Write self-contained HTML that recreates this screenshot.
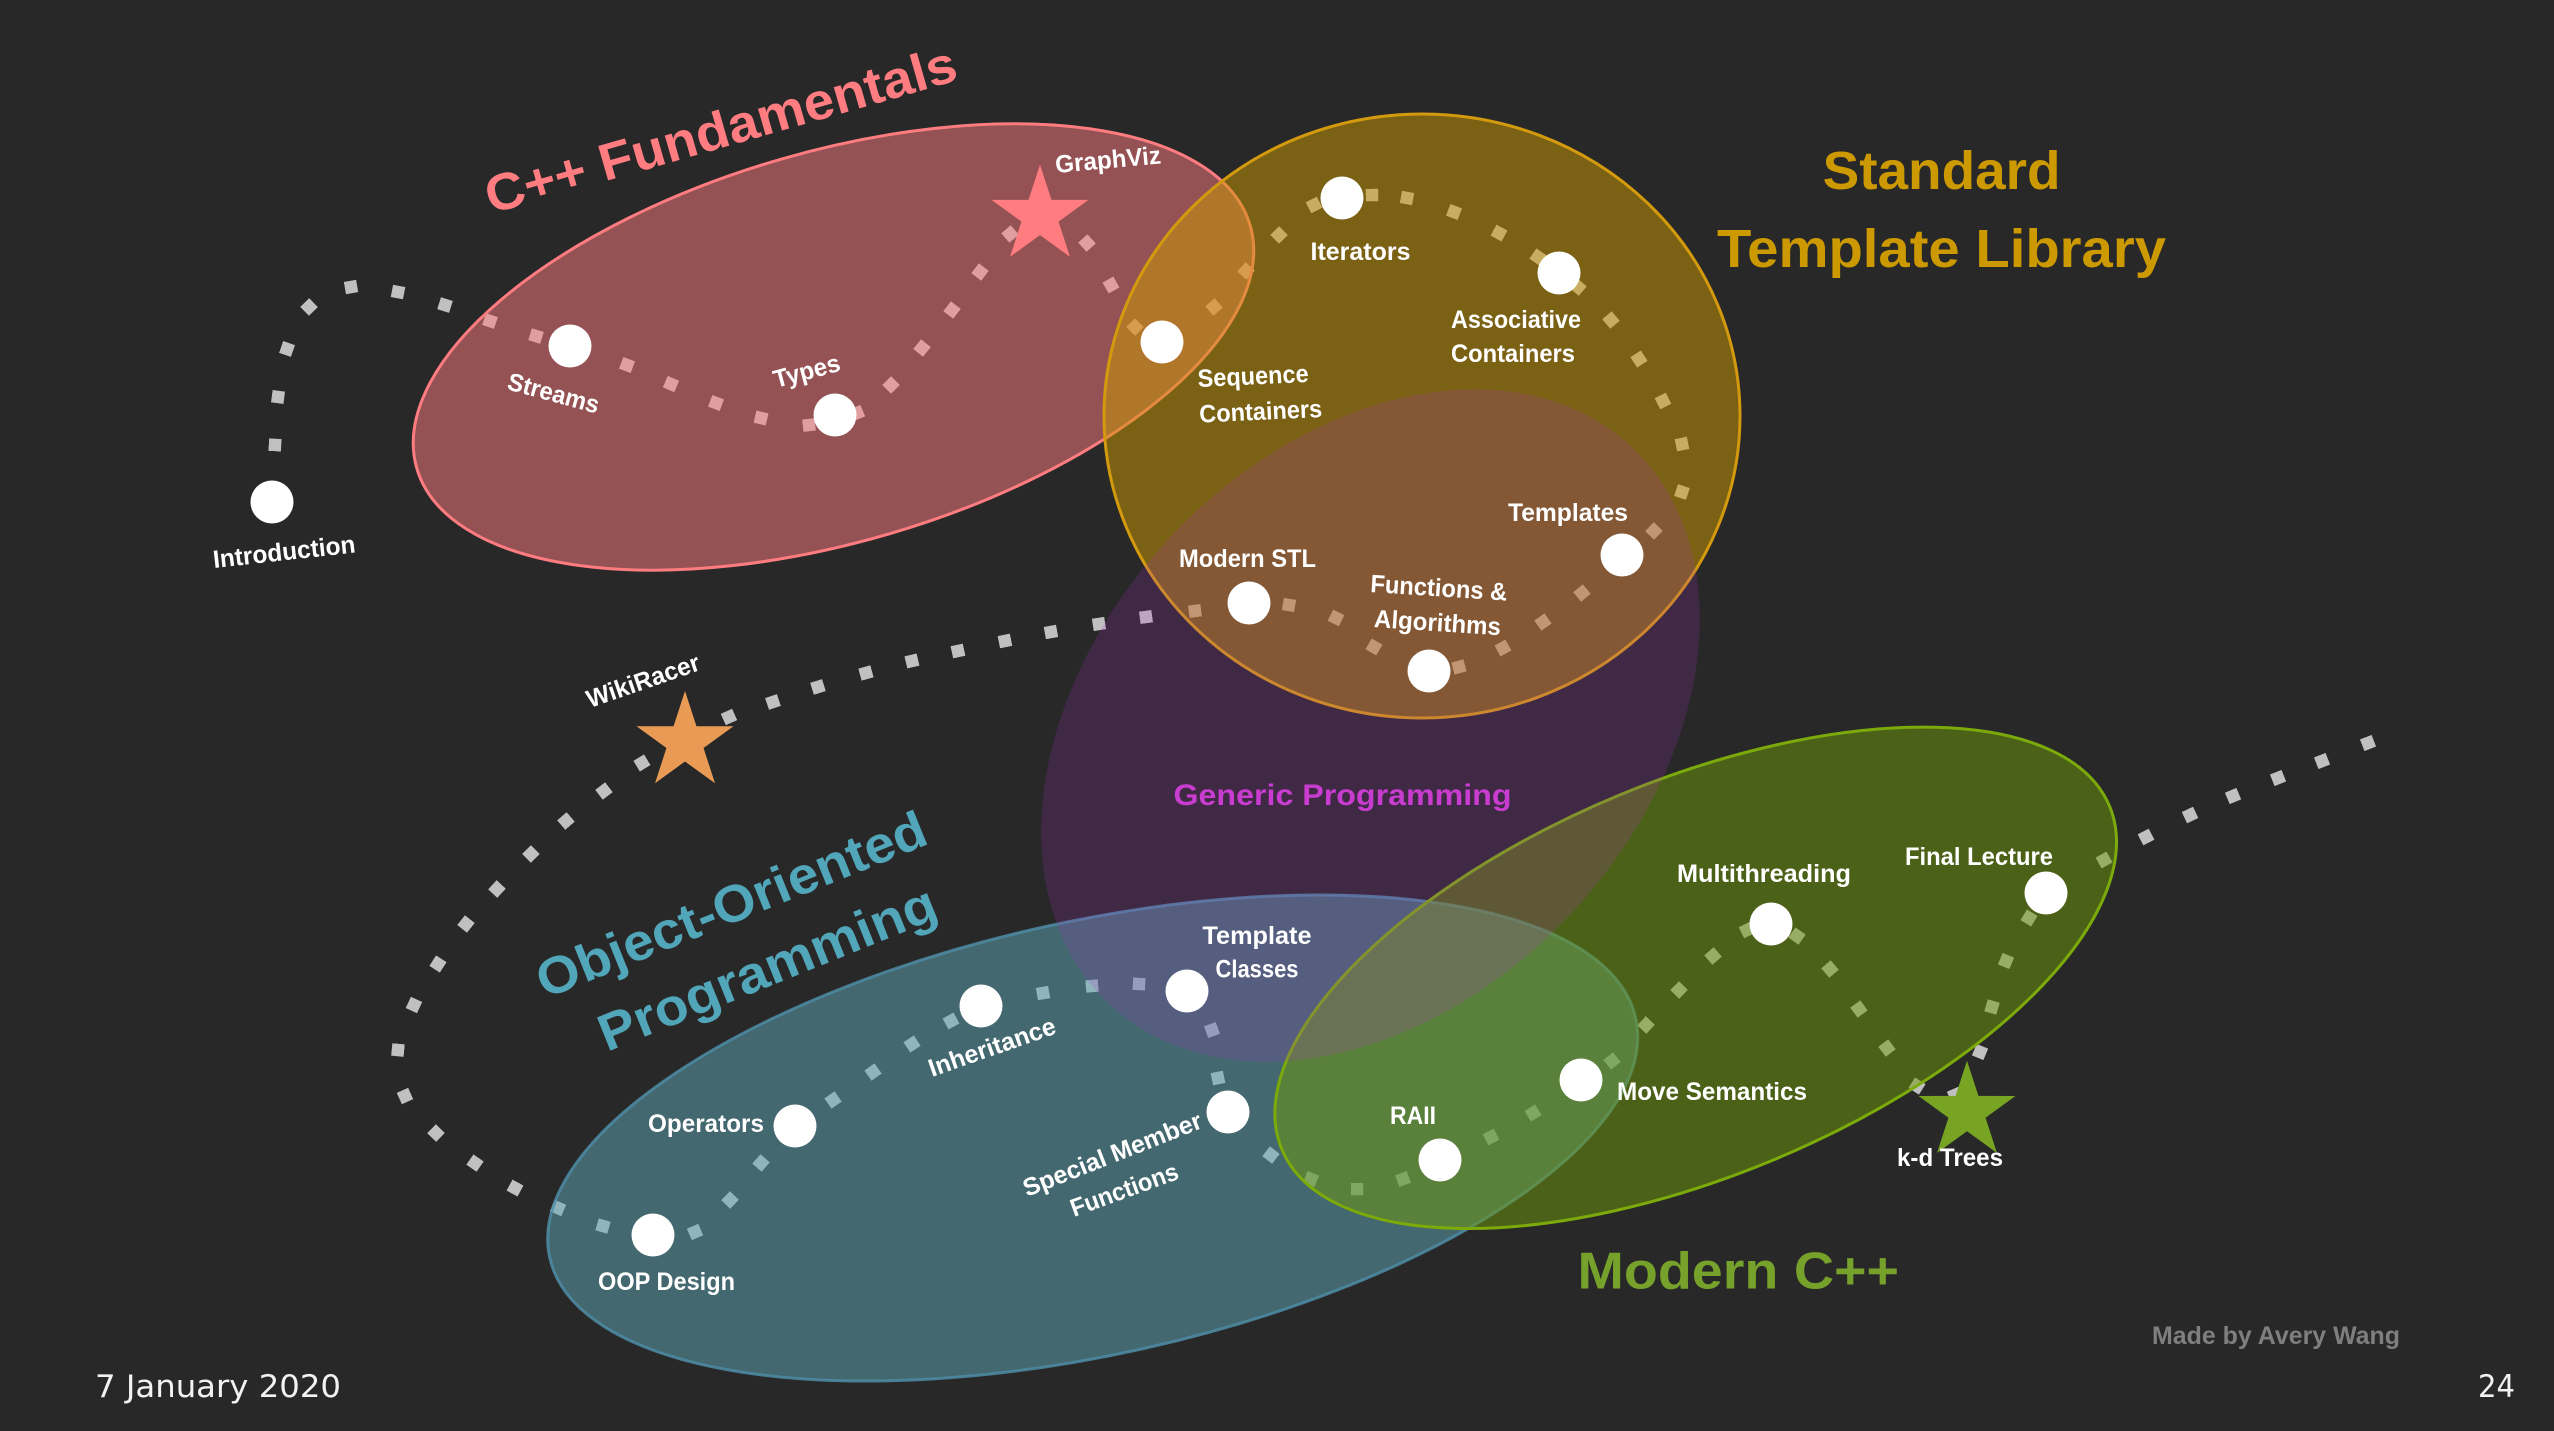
<!DOCTYPE html>
<html>
<head>
<meta charset="utf-8">
<style>
  html,body{margin:0;padding:0;background:#282828;}
  svg{display:block;}
  .lbl{font-family:"Liberation Sans",Arial,sans-serif;font-weight:bold;font-size:25px;fill:#FFFFFF;}
  .ttl{font-family:"Liberation Sans",Arial,sans-serif;font-weight:bold;}
</style>
</head>
<body>
<svg width="2554" height="1431" viewBox="0 0 2554 1431" xmlns="http://www.w3.org/2000/svg">
  <rect x="0" y="0" width="2554" height="1431" fill="#282828"/>
  <defs>
    <marker id="dot" markerUnits="userSpaceOnUse" markerWidth="14" markerHeight="14" refX="6.25" refY="6.25" orient="auto">
      <rect x="0" y="0" width="12.5" height="12.5" fill="#C0C0C0"/>
    </marker>
  </defs>

  <!-- dotted journey path -->
  <polyline fill="none" stroke="none" marker-start="url(#dot)" marker-mid="url(#dot)" marker-end="url(#dot)"
    points="272,502 275,445 278,397 287,349 309,307 351,287 398,292 445,305 490,321 536,336 570,346 627,365 671,384 716,403 761,418 809,425 835,415 857,413 891,385 922,348 952,310 980,272 1010,234 1046,214 1087,243 1111,285 1135,327 1162,342 1214,307 1246,271 1279,235 1314,205 1342,198 1372,195 1407,198 1454,212 1499,233 1538,257 1559,273 1578,287 1611,320 1639,359 1663,401 1682,444 1682,492 1654,531 1622,555 1582,593 1543,622 1503,648 1459,667 1429,671 1374,647 1336,618 1289,605 1249,603 1195,611 1146,617 1099,624 1051,632 1005,641 958,651 912,661 866,673 818,687 773,702 729,717 685,742 642,763 604,791 566,821 531,854 497,889 466,924 438,964 414,1005 398,1050 405,1096 436,1133 475,1163 515,1188 558,1208 603,1226 653,1235 695,1232 730,1200 761,1163 795,1126 833,1100 873,1072 912,1044 951,1021 981,1006 1043,993 1092,986 1139,984 1187,991 1212,1030 1218,1078 1228,1112 1271,1155 1311,1179 1357,1189 1403,1179 1440,1160 1491,1137 1533,1113 1581,1080 1612,1061 1646,1025 1679,990 1713,956 1747,930 1771,924 1797,936 1830,969 1859,1009 1887,1048 1917,1086 1955,1095 1980,1052 1992,1007 2006,961 2029,918 2046,893 2104,860 2146,837 2190,815 2233,796 2278,778 2322,761 2368,743"/>

  <!-- region ellipses -->
  <ellipse cx="833.5" cy="347" rx="434" ry="195" transform="rotate(-16.25 833.5 347)" fill="#FF7C80" fill-opacity="0.5" stroke="#FF7C80" stroke-width="3"/>
  <ellipse cx="1422" cy="416" rx="318" ry="302" fill="#CC9900" fill-opacity="0.5" stroke="#D49A0E" stroke-width="3"/>
  <ellipse cx="1092.7" cy="1138" rx="556" ry="216.6" transform="rotate(-12.42 1092.7 1138)" fill="#5EA8B6" fill-opacity="0.5" stroke="#4E8CA6" stroke-opacity="0.85" stroke-width="3"/>
  <ellipse cx="1695.7" cy="977.8" rx="448" ry="198" transform="rotate(-22.5 1695.7 977.8)" fill="#709A08" fill-opacity="0.5" stroke="#7BAA0A" stroke-width="3"/>
  <ellipse cx="1370.5" cy="725.5" rx="382" ry="275" transform="rotate(-46.9 1370.5 725.5)" fill="#B333C9" fill-opacity="0.18"/>

  <!-- nodes -->
  <g fill="#FFFFFF">
    <circle cx="272" cy="502" r="21.5"/>
    <circle cx="570" cy="346" r="21.5"/>
    <circle cx="835" cy="415" r="21.5"/>
    <circle cx="1162" cy="342" r="21.5"/>
    <circle cx="1342" cy="198" r="21.5"/>
    <circle cx="1559" cy="273" r="21.5"/>
    <circle cx="1622" cy="555" r="21.5"/>
    <circle cx="1429" cy="671" r="21.5"/>
    <circle cx="1249" cy="603" r="21.5"/>
    <circle cx="653" cy="1235" r="21.5"/>
    <circle cx="795" cy="1126" r="21.5"/>
    <circle cx="981" cy="1006" r="21.5"/>
    <circle cx="1187" cy="991" r="21.5"/>
    <circle cx="1228" cy="1112" r="21.5"/>
    <circle cx="1440" cy="1160" r="21.5"/>
    <circle cx="1581" cy="1080" r="21.5"/>
    <circle cx="1771" cy="924" r="21.5"/>
    <circle cx="2046" cy="893" r="21.5"/>
  </g>

  <!-- stars -->
  <polygon transform="translate(1040 215.6)" fill="#FF7C80" points="0,-51 11.46,-15.78 48.5,-15.76 18.55,6.03 29.98,41.26 0,19.5 -29.98,41.26 -18.55,6.03 -48.5,-15.76 -11.46,-15.78"/>
  <polygon transform="translate(685 742)" fill="#E99B55" points="0,-51 11.46,-15.78 48.5,-15.76 18.55,6.03 29.98,41.26 0,19.5 -29.98,41.26 -18.55,6.03 -48.5,-15.76 -11.46,-15.78"/>
  <polygon transform="translate(1967 1111.7)" fill="#77A422" points="0,-51 11.46,-15.78 48.5,-15.76 18.55,6.03 29.98,41.26 0,19.5 -29.98,41.26 -18.55,6.03 -48.5,-15.76 -11.46,-15.78"/>

  <!-- node labels -->
  <text class="lbl" transform="translate(214 568) rotate(-6.3)" textLength="143" lengthAdjust="spacingAndGlyphs">Introduction</text>
  <text class="lbl" transform="translate(506 389) rotate(15.2)" textLength="94" lengthAdjust="spacingAndGlyphs">Streams</text>
  <text class="lbl" transform="translate(776 388) rotate(-15)" textLength="68" lengthAdjust="spacingAndGlyphs">Types</text>
  <text class="lbl" transform="translate(1056 173) rotate(-5.2)" textLength="106" lengthAdjust="spacingAndGlyphs">GraphViz</text>
  <text class="lbl" transform="translate(1198 387) rotate(-2.6)" textLength="111" lengthAdjust="spacingAndGlyphs">Sequence</text>
  <text class="lbl" transform="translate(1199.6 422.6) rotate(-2.6)" textLength="123" lengthAdjust="spacingAndGlyphs">Containers</text>
  <text class="lbl" x="1310.5" y="260" textLength="100" lengthAdjust="spacingAndGlyphs">Iterators</text>
  <text class="lbl" x="1451" y="328" textLength="130" lengthAdjust="spacingAndGlyphs">Associative</text>
  <text class="lbl" x="1451" y="362" textLength="124" lengthAdjust="spacingAndGlyphs">Containers</text>
  <text class="lbl" x="1508" y="521" textLength="120" lengthAdjust="spacingAndGlyphs">Templates</text>
  <text class="lbl" x="1179" y="567" textLength="137" lengthAdjust="spacingAndGlyphs">Modern STL</text>
  <text class="lbl" transform="translate(1370 592) rotate(3.6)" textLength="137" lengthAdjust="spacingAndGlyphs">Functions &amp;</text>
  <text class="lbl" transform="translate(1373.6 627) rotate(3.7)" textLength="127" lengthAdjust="spacingAndGlyphs">Algorithms</text>
  <text class="lbl" transform="translate(590 708) rotate(-19)" textLength="118" lengthAdjust="spacingAndGlyphs">WikiRacer</text>
  <text class="lbl" x="648" y="1132" textLength="116" lengthAdjust="spacingAndGlyphs">Operators</text>
  <text class="lbl" x="598" y="1290" textLength="137" lengthAdjust="spacingAndGlyphs">OOP Design</text>
  <text class="lbl" transform="translate(932 1077) rotate(-19.3)" textLength="133" lengthAdjust="spacingAndGlyphs">Inheritance</text>
  <text class="lbl" x="1202.5" y="944" textLength="109" lengthAdjust="spacingAndGlyphs">Template</text>
  <text class="lbl" x="1215.5" y="977.5" textLength="83" lengthAdjust="spacingAndGlyphs">Classes</text>
  <text class="lbl" transform="translate(1027 1197) rotate(-21.5)" textLength="190" lengthAdjust="spacingAndGlyphs">Special Member</text>
  <text class="lbl" transform="translate(1074 1217) rotate(-20)" textLength="113" lengthAdjust="spacingAndGlyphs">Functions</text>
  <text class="lbl" x="1390" y="1124" textLength="46" lengthAdjust="spacingAndGlyphs">RAII</text>
  <text class="lbl" x="1617" y="1100" textLength="190" lengthAdjust="spacingAndGlyphs">Move Semantics</text>
  <text class="lbl" x="1677" y="882" textLength="174" lengthAdjust="spacingAndGlyphs">Multithreading</text>
  <text class="lbl" x="1905" y="865" textLength="148" lengthAdjust="spacingAndGlyphs">Final Lecture</text>
  <text class="lbl" x="1897" y="1166" textLength="106" lengthAdjust="spacingAndGlyphs">k-d Trees</text>

  <!-- region titles -->
  <text class="ttl" transform="translate(491 214) rotate(-16)" font-size="52" fill="#FF7C80" textLength="488" lengthAdjust="spacingAndGlyphs">C++ Fundamentals</text>
  <text class="ttl" x="1822.6" y="189" font-size="54" fill="#CC9900" textLength="238" lengthAdjust="spacingAndGlyphs">Standard</text>
  <text class="ttl" x="1717" y="267" font-size="54" fill="#CC9900" textLength="449" lengthAdjust="spacingAndGlyphs">Template Library</text>
  <text class="ttl" x="1173.5" y="805" font-size="30" fill="#C83CD0" textLength="338" lengthAdjust="spacingAndGlyphs">Generic Programming</text>
  <text class="ttl" transform="translate(545 999) rotate(-22)" font-size="52" fill="#52A6BA" textLength="416" lengthAdjust="spacingAndGlyphs">Object-Oriented</text>
  <text class="ttl" transform="translate(607 1052) rotate(-22)" font-size="52" fill="#52A6BA" textLength="360" lengthAdjust="spacingAndGlyphs">Programming</text>
  <text class="ttl" x="1577.5" y="1288.7" font-size="52" fill="#76A12A" textLength="321.5" lengthAdjust="spacingAndGlyphs">Modern C++</text>

  <!-- footer -->
  <text class="ttl" x="2152" y="1344" font-size="25" fill="#7F7F7F" textLength="248" lengthAdjust="spacingAndGlyphs">Made by Avery Wang</text>
  <text x="95" y="1397" font-family="'DejaVu Sans','Liberation Sans',sans-serif" font-size="31" fill="#F2F2F2" textLength="246" lengthAdjust="spacingAndGlyphs">7 January 2020</text>
  <text x="2478" y="1397" font-family="'DejaVu Sans','Liberation Sans',sans-serif" font-size="31" fill="#F2F2F2" textLength="37" lengthAdjust="spacingAndGlyphs">24</text>
</svg>
</body>
</html>
